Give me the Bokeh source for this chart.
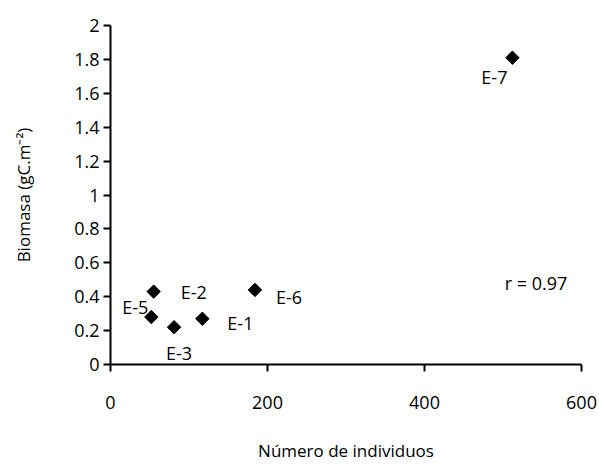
import math
from bokeh.plotting import figure
from bokeh.models import ColumnDataSource, FixedTicker, Label
from bokeh.core.properties import value
from bokeh.embed import file_html
from bokeh.resources import INLINE

# Stations: number of individuals vs. biomass
stations = ["E-1", "E-2", "E-3", "E-5", "E-6", "E-7"]
individuos = [117, 55, 81, 52, 184, 512]
biomasa = [0.27, 0.43, 0.22, 0.28, 0.44, 1.81]
r_text = "r = 0.97"

x_ticks = [0, 200, 400, 600]
y_ticks = [0, 0.2, 0.4, 0.6, 0.8, 1, 1.2, 1.4, 1.6, 1.8, 2]
y_tick_labels = {0: "0", 0.2: "0.2", 0.4: "0.4", 0.6: "0.6", 0.8: "0.8", 1: "1",
                 1.2: "1.2", 1.4: "1.4", 1.6: "1.6", 1.8: "1.8", 2: "2"}

FONT = "Open Sans"

# label placement around each marker (pixels, screen y grows downward)
label_dx = [25, 27, 5, -3, 21, -5]
label_dy = [4, 0, 26, -10, 7, 19]
label_align = ["left", "left", "center", "right", "left", "right"]

src = ColumnDataSource(dict(x=individuos, y=biomasa, name=stations,
                            dx=label_dx, dy=label_dy, align=label_align))

p = figure(width=599, height=472, output_backend="svg", toolbar_location=None,
           x_range=(0, 600), y_range=(0, 2),
           min_border_left=110, min_border_right=18,
           min_border_top=25, min_border_bottom=108)
p.outline_line_color = None
p.xgrid.visible = False
p.ygrid.visible = False
p.background_fill_color = "white"
p.border_fill_color = "white"

# diamonds drawn as squares turned by 45 degrees
p.scatter("x", "y", source=src, marker="square", size=9.5, angle=math.pi / 4,
          fill_color="black", line_color="black")

p.text("x", "y", text="name", source=src, x_offset="dx", y_offset="dy",
       text_align="align", text_baseline="middle",
       text_font=value(FONT), text_font_size="18px", text_color="black")

p.add_layout(Label(x=582, y=0.48, text=r_text, text_align="right",
                   text_baseline="middle", text_font=FONT,
                   text_font_size="18px", text_color="black"))

for ax in (p.xaxis[0], p.yaxis[0]):
    ax.axis_line_color = "black"
    ax.axis_line_width = 2
    ax.major_tick_line_color = "black"
    ax.major_tick_line_width = 2
    ax.major_tick_out = 7
    ax.major_tick_in = 0
    ax.minor_tick_line_color = None
    ax.major_label_text_font = FONT
    ax.major_label_text_font_size = "18px"
    ax.major_label_text_color = "black"
    ax.axis_label_text_font = FONT
    ax.axis_label_text_font_size = "17px"
    ax.axis_label_text_font_style = "normal"
    ax.axis_label_text_color = "black"

p.xaxis[0].ticker = FixedTicker(ticks=x_ticks)
p.xaxis[0].major_label_standoff = 24
p.xaxis[0].axis_label = "Número de individuos"
p.xaxis[0].axis_label_standoff = 27

p.yaxis[0].ticker = FixedTicker(ticks=y_ticks)
p.yaxis[0].major_label_overrides = y_tick_labels
p.yaxis[0].major_label_standoff = 4
p.yaxis[0].axis_label = "Biomasa (gC.m⁻²)"
p.yaxis[0].axis_label_standoff = 36

open("out.html", "w").write(file_html(p, INLINE))
